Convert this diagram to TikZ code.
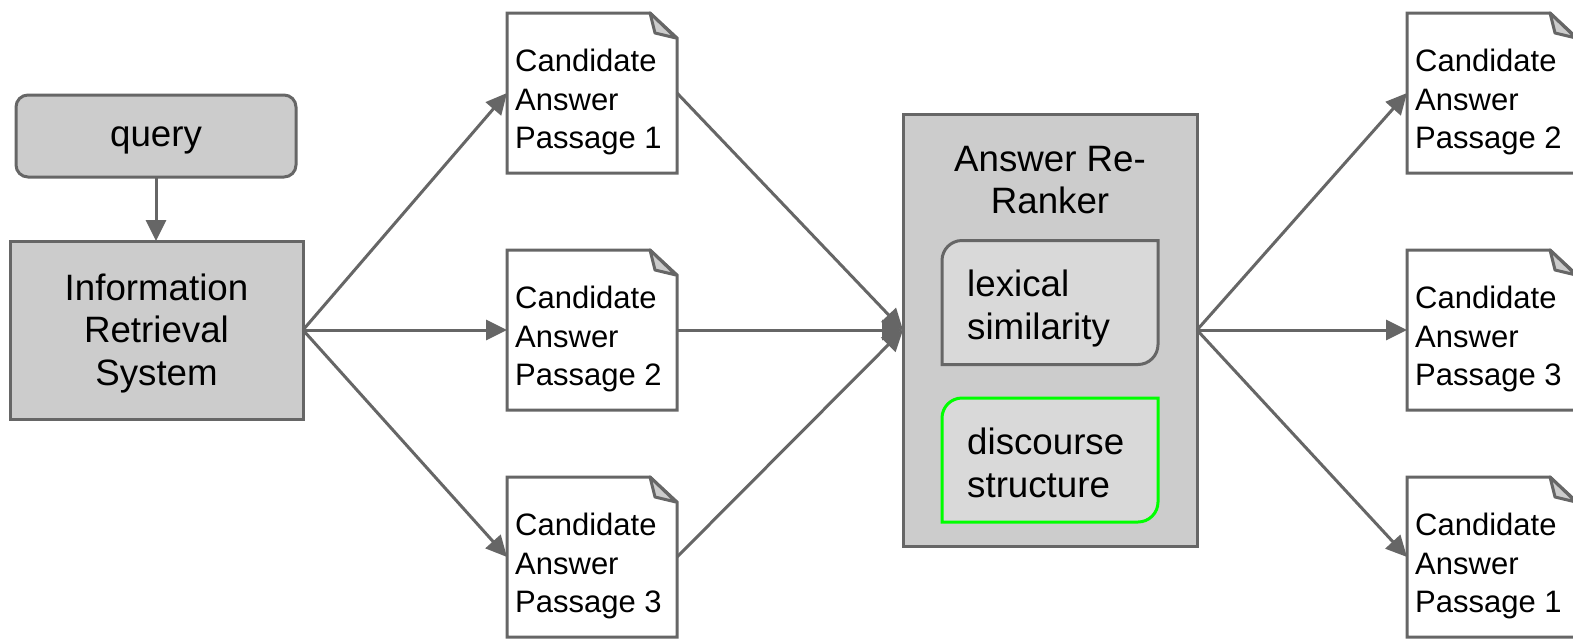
\documentclass[tikz,border=0pt]{standalone}
\usepackage{fontspec}
\setmainfont{Liberation Sans}
\usetikzlibrary{arrows.meta}
\definecolor{edgegray}{HTML}{666666}
\definecolor{boxgray}{HTML}{CCCCCC}
\definecolor{innergray}{HTML}{D9D9D9}
\definecolor{brightgreen}{HTML}{00FF00}
\tikzset{
  bigfont/.style={font=\fontsize{36.7}{42.5}\selectfont},
  docfont/.style={font=\fontsize{31}{38.5}\selectfont},
  graybox/.style={draw=edgegray, fill=boxgray, line width=3pt, outer sep=0pt, inner sep=0pt, bigfont, align=center},
  plaintext/.style={bigfont, align=center, inner sep=0pt},
  docbox/.style={minimum width=170pt, minimum height=160pt, inner sep=0pt, outer sep=0pt},
  docline/.style={draw=edgegray, line width=3pt, line join=miter},
  doctext/.style={docfont, align=left, inner sep=0pt, anchor=west},
  featbox/.style={minimum width=216pt, minimum height=124pt, inner sep=0pt, outer sep=0pt},
  feattext/.style={bigfont, align=left, inner sep=0pt, anchor=west},
  conn/.style={draw=edgegray, line width=3pt, -{Triangle[length=21pt,width=20pt]}},
}
\newcommand\docnode[3]{%
  \node[docbox] (#1) at (#2) {};
  \fill[white] (#1.north west) -- ([xshift=-27pt]#1.north east) -- ([yshift=-25pt]#1.north east) -- (#1.south east) -- (#1.south west) -- cycle;
  \draw[docline] (#1.north west) -- ([xshift=-27pt]#1.north east) -- ([yshift=-25pt]#1.north east) -- (#1.south east) -- (#1.south west) -- cycle;
  \draw[docline, fill=boxgray, line join=round] ([xshift=-27pt]#1.north east) -- ([xshift=-22pt,yshift=-20pt]#1.north east) -- ([xshift=-1pt,yshift=-25pt]#1.north east) -- cycle;
  \node[doctext] (#1-t) at ([xshift=8pt,yshift=-9pt]#1.west) {#3};
}
\newcommand\featnode[3]{%
  \node[featbox] (#1) at (#2) {};
  \draw[draw=#3, fill=innergray, line width=3pt]
    ([yshift=-20pt]#1.north west) arc[start angle=180, end angle=90, radius=20pt]
    -- (#1.north east) -- ([yshift=20pt]#1.south east) arc[start angle=0, end angle=-90, radius=20pt]
    -- (#1.south west) -- cycle;
}
\begin{document}
\begin{tikzpicture}[x=1pt,y=-1pt]
\useasboundingbox (0,0) rectangle (1573,638);
\clip (0,0) rectangle (1573,638);
\fill[white] (0,0) rectangle (1573,638);

% query and IR system
\node[graybox, rounded corners=12pt, minimum width=280pt, minimum height=82pt] (query) at (156,136) {};
\node[plaintext] (queryt) at (156,140) {query};
\node[graybox, minimum width=293pt, minimum height=178pt] (ir) at (156.5,330) {};
\node[plaintext] (irt) at (156.5,333.5) {Information\\Retrieval\\System};
\draw[conn] (query.south -| 156,0) -- (ir.north -| 156,0);

% candidate passages (retrieved)
\docnode{c1}{592,93}{Candidate\\Answer\\Passage 1}
\docnode{c2}{592,330}{Candidate\\Answer\\Passage 2}
\docnode{c3}{592,557}{Candidate\\Answer\\Passage 3}

% re-ranker
\node[graybox, minimum width=294pt, minimum height=432pt] (rr) at (1050,330) {};
\node[plaintext] (rrtitle) at (1050,180) {Answer Re-\\Ranker};
\featnode{lex}{1050,302.5}{edgegray}
\node[feattext] (lext) at ([xshift=25pt,yshift=-6pt]lex.west) {lexical\\similarity};
\featnode{disc}{1050,460}{brightgreen}
\node[feattext] (disct) at ([xshift=25pt,yshift=-3pt]disc.west) {discourse\\structure};

% re-ranked passages
\docnode{r1}{1492,93}{Candidate\\Answer\\Passage 2}
\docnode{r2}{1492,330}{Candidate\\Answer\\Passage 3}
\docnode{r3}{1492,557}{Candidate\\Answer\\Passage 1}

% connectors
\draw[conn] (ir.east) -- (c1.west);
\draw[conn] (ir.east) -- (c2.west);
\draw[conn] (ir.east) -- (c3.west);
\draw[conn] (c1.east) -- (rr.west);
\draw[conn] (c2.east) -- (rr.west);
\draw[conn] (c3.east) -- (rr.west);
\draw[conn] (rr.east) -- (r1.west);
\draw[conn] (rr.east) -- (r2.west);
\draw[conn] (rr.east) -- (r3.west);
\end{tikzpicture}
\end{document}
